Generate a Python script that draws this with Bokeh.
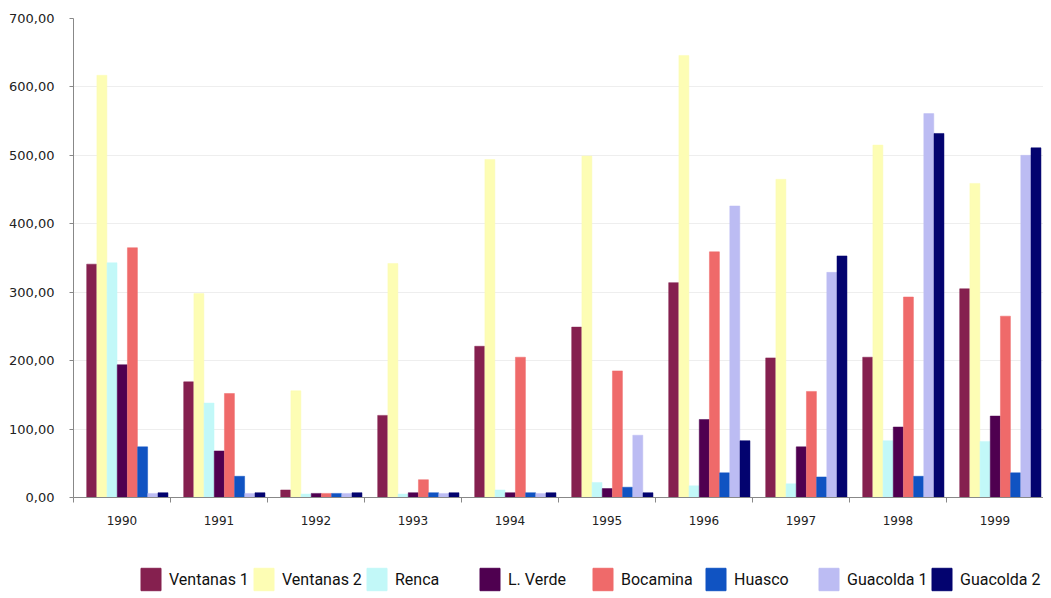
from bokeh.plotting import figure
from bokeh.models import ColumnDataSource, FixedTicker, Legend, LegendItem, Range1d
from bokeh.layouts import column
from bokeh.transform import dodge
from bokeh.embed import file_html
from bokeh.resources import INLINE

years = [1990, 1991, 1992, 1993, 1994, 1995, 1996, 1997, 1998, 1999]
year_labels = ["1990", "1991", "1992", "1993", "1994", "1995", "1996", "1997", "1998", "1999"]

ventanas_1 = [341, 169, 11, 120, 221, 249, 314, 204, 205, 305]
ventanas_2 = [617, 298, 156, 342, 494, 499, 646, 465, 515, 459]
renca = [343, 138, 5, 5, 11, 22, 17, 20, 83, 82]
l_verde = [194, 68, 6, 7, 7, 13, 114, 74, 103, 119]
bocamina = [365, 152, 6, 26, 205, 185, 359, 155, 293, 265]
huasco = [74, 31, 6, 7, 7, 15, 36, 30, 31, 36]
guacolda_1 = [6, 6, 6, 6, 6, 91, 426, 329, 561, 500]
guacolda_2 = [7, 7, 7, 7, 7, 7, 83, 353, 532, 511]

series_names = ["Ventanas 1", "Ventanas 2", "Renca", "L. Verde", "Bocamina", "Huasco", "Guacolda 1", "Guacolda 2"]
series_values = [ventanas_1, ventanas_2, renca, l_verde, bocamina, huasco, guacolda_1, guacolda_2]
colors = ["#85204f", "#fdfdb4", "#c2f8f8", "#4f0050", "#ef6a6a", "#1053c2", "#bcbcf3", "#03036f"]

y_ticks = [0, 100, 200, 300, 400, 500, 600, 700]
y_tick_labels = ["0,00", "100,00", "200,00", "300,00", "400,00", "500,00", "600,00", "700,00"]

data = {"year": years}
for i, vals in enumerate(series_values):
    data["s%d" % i] = vals
source = ColumnDataSource(data)

p = figure(
    width=1043, height=537,
    min_border_left=73, min_border_top=18, min_border_right=0, min_border_bottom=40,
    x_range=Range1d(1989.5, 1999.5), y_range=Range1d(0, 700),
    output_backend="svg", toolbar_location=None,
)
p.outline_line_color = None
p.background_fill_color = "white"

bar_w = 0.105
shift = 0.055
for i, name in enumerate(series_names):
    off = shift + (i - 3.5) * bar_w
    p.vbar(x=dodge("year", off, range=p.x_range), top="s%d" % i, width=bar_w * 0.98,
           bottom=0, source=source, fill_color=colors[i], line_color=colors[i], line_width=0.5)

# axes
xa = p.xaxis[0]
xa.ticker = FixedTicker(ticks=years, minor_ticks=[y - 0.5 for y in years] + [years[-1] + 0.5])
xa.major_label_overrides = {y: l for y, l in zip(years, year_labels)}
xa.major_tick_out = 0
xa.major_tick_in = 0
xa.minor_tick_out = 5
xa.minor_tick_in = 0
xa.minor_tick_line_color = "#888888"
xa.axis_line_color = "#888888"
xa.major_label_standoff = 13
xa.major_label_text_font = "DejaVu Sans"
xa.major_label_text_font_size = "12px"
xa.major_label_text_color = "#222222"

ya = p.yaxis[0]
ya.ticker = FixedTicker(ticks=y_ticks)
ya.major_label_overrides = {v: l for v, l in zip(y_ticks, y_tick_labels)}
ya.major_tick_out = 4
ya.major_tick_in = 0
ya.minor_tick_line_color = None
ya.major_tick_line_color = "#888888"
ya.axis_line_color = "#888888"
ya.major_label_standoff = 15
ya.major_label_text_font = "DejaVu Sans"
ya.major_label_text_font_size = "13px"
ya.major_label_text_color = "#222222"

p.xgrid.grid_line_color = None
p.ygrid.grid_line_color = "#eeeeee"
p.ygrid.ticker = FixedTicker(ticks=y_ticks)

# legend strip (separate figure under the chart; its bars fall outside its range)
lg = figure(
    width=1043, height=56, min_border=0,
    x_range=Range1d(0, 1), y_range=Range1d(0, 1),
    x_axis_type=None, y_axis_type=None,
    output_backend="svg", toolbar_location=None,
)
lg.outline_line_color = None
lg.xgrid.grid_line_color = None
lg.ygrid.grid_line_color = None
items = []
for i, name in enumerate(series_names):
    r = lg.vbar(x="year", top="s%d" % i, width=0.1, source=source,
                fill_color=colors[i], line_color=colors[i])
    items.append(LegendItem(label=name, renderers=[r]))

legend = Legend(
    items=items, orientation="horizontal", location=(65, 0),
    glyph_width=25, glyph_height=28, label_standoff=6, label_width=82, spacing=0,
    padding=0, margin=0, border_line_color=None, background_fill_alpha=0,
    label_text_font="Roboto",
    label_text_font_size="16px", label_text_color="#111111", label_height=28,
)
lg.add_layout(legend)

open("out.html", "w").write(file_html(column(p, lg, spacing=0), INLINE))
